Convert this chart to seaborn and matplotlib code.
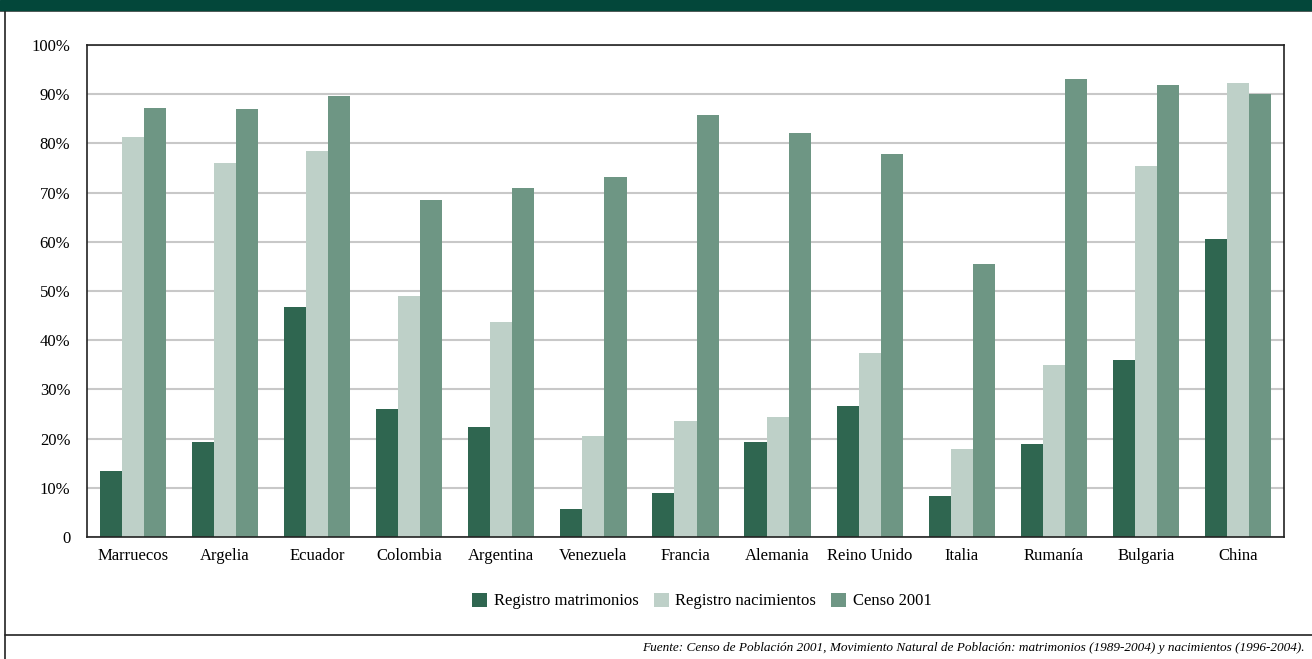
import numpy as np
import pandas as pd
import seaborn as sns
import matplotlib.pyplot as plt
from matplotlib.lines import Line2D
from matplotlib.patches import Rectangle

# %% data
paises = ['Marruecos', 'Argelia', 'Ecuador', 'Colombia', 'Argentina', 'Venezuela',
          'Francia', 'Alemania', 'Reino Unido', 'Italia', 'Rumanía', 'Bulgaria', 'China']
matrimonios = [13.5, 19.3, 46.8, 26.0, 22.3, 5.7, 9.0, 19.3, 26.6, 8.3, 19.0, 36.0, 60.6]
nacimientos = [81.3, 76.0, 78.5, 49.0, 43.8, 20.5, 23.5, 24.3, 37.5, 17.9, 35.0, 75.4, 92.2]
censo = [87.2, 87.0, 89.7, 68.5, 71.0, 73.2, 85.8, 82.1, 77.9, 55.5, 93.1, 91.8, 90.1]
series = ['Registro matrimonios', 'Registro nacimientos', 'Censo 2001']
yticks = [0, 10, 20, 30, 40, 50, 60, 70, 80, 90, 100]
ytick_labels = ['0'] + [f'{v}%' for v in yticks[1:]]
fuente = ('Fuente: Censo de Población 2001, Movimiento Natural de Población: '
          'matrimonios (1989-2004) y nacimientos (1996-2004).')

df = pd.DataFrame({'pais': paises * 3,
                   'serie': np.repeat(series, len(paises)),
                   'valor': matrimonios + nacimientos + censo})

colores = ['#2f6650', '#bed0c8', '#6e9684']

# %% plot
sns.set_style('white')
plt.rcParams['font.family'] = ['Liberation Serif', 'DejaVu Serif']
plt.rcParams['text.color'] = 'black'
plt.rcParams['xtick.color'] = 'black'
plt.rcParams['ytick.color'] = 'black'

fig = plt.figure(figsize=(13.12, 6.59), dpi=100)
ax = fig.add_axes([87/1312, 1 - 537/659, (1284 - 87)/1312, (537 - 45)/659])

sns.barplot(data=df, x='pais', y='valor', hue='serie', palette=colores,
            width=0.72, gap=0, saturation=1, linewidth=0, ax=ax, legend=True)

ax.set_ylim(0, 100)
ax.set_xlim(-0.5, len(paises) - 0.5)
ax.set_yticks(yticks)
ax.set_yticklabels(ytick_labels, fontsize=12)
ax.set_xlabel('')
ax.set_ylabel('')
ax.yaxis.grid(True, color='#c8c8c8', lw=1.5)
ax.set_axisbelow(True)
for s in ax.spines.values():
    s.set_visible(True)
    s.set_color('#222222')
    s.set_linewidth(1.2)

ax.tick_params(axis='x', which='major', length=0, labelsize=12, pad=8)
ax.set_xticks(np.arange(len(paises) + 1) - 0.5, minor=True)
ax.tick_params(axis='x', which='minor', length=6, width=1, direction='out', color='#222222')
ax.tick_params(axis='y', length=6, width=1, direction='out', color='#222222', pad=6)

handles, labels = ax.get_legend_handles_labels()
ax.legend(handles, labels, loc='center', bbox_to_anchor=(0.535, 1 - 601/659),
          bbox_transform=fig.transFigure, ncol=3, frameon=False, fontsize=12,
          handlelength=0.9, handleheight=0.9, handletextpad=0.4, columnspacing=0.9)

# frame decorations
fig.patches.append(Rectangle((0, 1 - 10/659), 1, 10/659, transform=fig.transFigure,
                             color='#03473a', zorder=5))
fig.add_artist(Line2D([0, 1], [1 - 10.5/659] * 2, transform=fig.transFigure,
                      color='#444444', lw=1.2))
fig.add_artist(Line2D([5/1312] * 2, [0, 1 - 10/659], transform=fig.transFigure,
                      color='#222222', lw=1.2))
fig.add_artist(Line2D([5/1312, 1], [1 - 635/659] * 2, transform=fig.transFigure,
                      color='#222222', lw=1.2))

fig.text(1305/1312, 1 - 648/659, fuente, ha='right', va='center',
         fontsize=9.5, style='italic')

fig.savefig('out.png', dpi=100)
